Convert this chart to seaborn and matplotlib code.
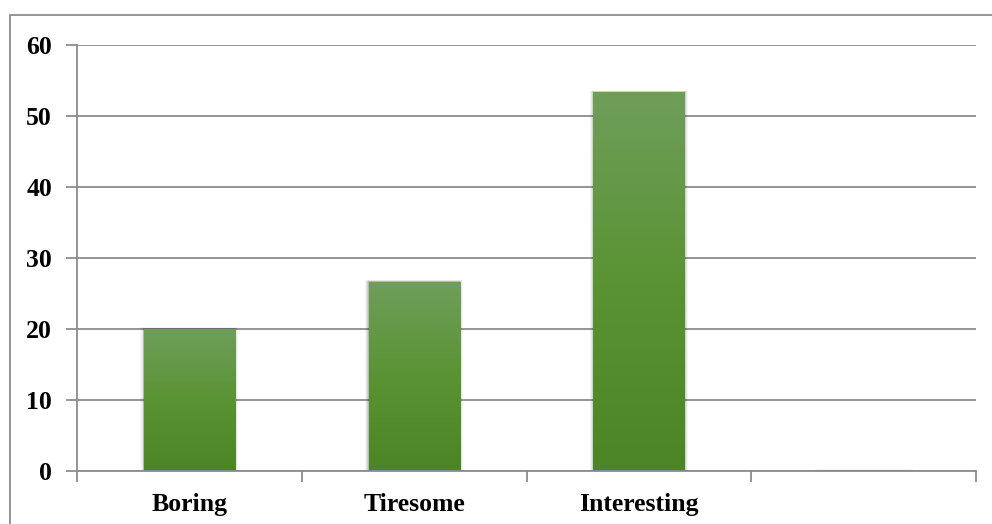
import numpy as np
import matplotlib
matplotlib.use("Agg")
import matplotlib.pyplot as plt
import matplotlib.patches as mpatches
import seaborn as sns

categories = ["Boring", "Tiresome", "Interesting", ""]
values = [20.0, 26.67, 53.33, 0.0]
y_ticks = [0, 10, 20, 30, 40, 50, 60]

sns.set_theme(style="white")
plt.rcParams['font.family'] = ['Liberation Serif', 'DejaVu Serif']

fig = plt.figure(figsize=(9.92, 5.24), dpi=100)
ax = fig.add_axes([77/992, 53/524, (976-77)/992, (471-45)/524])

grid_c = "#8c8c8c"
sns.barplot(x=categories, y=values, ax=ax, color="#5a9133", width=0.405,
            saturation=1, zorder=3, linewidth=0, edgecolor="none")

ax.set_xlim(-0.5, 3.5)
ax.set_ylim(0, 60)
ax.set_yticks(y_ticks)
ax.set_yticklabels([str(t) for t in y_ticks], fontsize=18.5, fontweight="bold")
ax.set_xticks(range(len(categories)))
ax.set_xticklabels(categories, fontsize=18.5, fontweight="bold")
ax.tick_params(axis="both", which="both", bottom=True, left=True)
ax.tick_params(axis="x", which="major", length=0, pad=16)
ax.set_xticks(np.arange(-0.5, len(categories), 1.0), minor=True)
ax.tick_params(axis="x", which="minor", length=8, width=1.3, color=grid_c, direction="out")
ax.tick_params(axis="y", which="major", length=8, width=1.3, color=grid_c, direction="out", pad=10)
for lab in ax.get_xticklabels() + ax.get_yticklabels():
    lab.set_color("black")

ax.yaxis.grid(True, color=grid_c, linewidth=1.3, zorder=0)
ax.set_axisbelow(True)
for s in ["top", "right"]:
    ax.spines[s].set_visible(False)
for s in ["left", "bottom"]:
    ax.spines[s].set_color(grid_c)
    ax.spines[s].set_linewidth(1.3)
    ax.spines[s].set_zorder(5)

# gradient fill + soft shadow
grad = np.linspace(0, 1, 256).reshape(-1, 1)
cmap = matplotlib.colors.LinearSegmentedColormap.from_list("g", ["#4b8526", "#5a9334", "#6f9e5a"])
for p in list(ax.patches):
    x0, w, h = p.get_x(), p.get_width(), p.get_height()
    for k, a in [(0.05, 0.04), (0.035, 0.06), (0.02, 0.09), (0.01, 0.12)]:
        sh = mpatches.Rectangle((x0 - k*0.3, 0), w + k*0.6, h + k*4 + 0.05,
                                facecolor="black", edgecolor="none", alpha=a, zorder=2)
        ax.add_patch(sh)
    if h > 0:
        im = ax.imshow(grad, extent=(x0, x0 + w, 0, h), origin="lower", cmap=cmap,
                       aspect="auto", zorder=3.5)
        im.set_clip_path(p)
ax.set_xlim(-0.5, 3.5)
ax.set_ylim(0, 60)
ax.set_xlabel("")
ax.set_ylabel("")

border = mpatches.Rectangle((10/992, -0.2), 1.2, (524-15)/524 + 0.2, transform=fig.transFigure,
                            fill=False, edgecolor=grid_c, linewidth=1.3)
fig.patches.append(border)

fig.savefig("out.png", dpi=100, facecolor="white")
